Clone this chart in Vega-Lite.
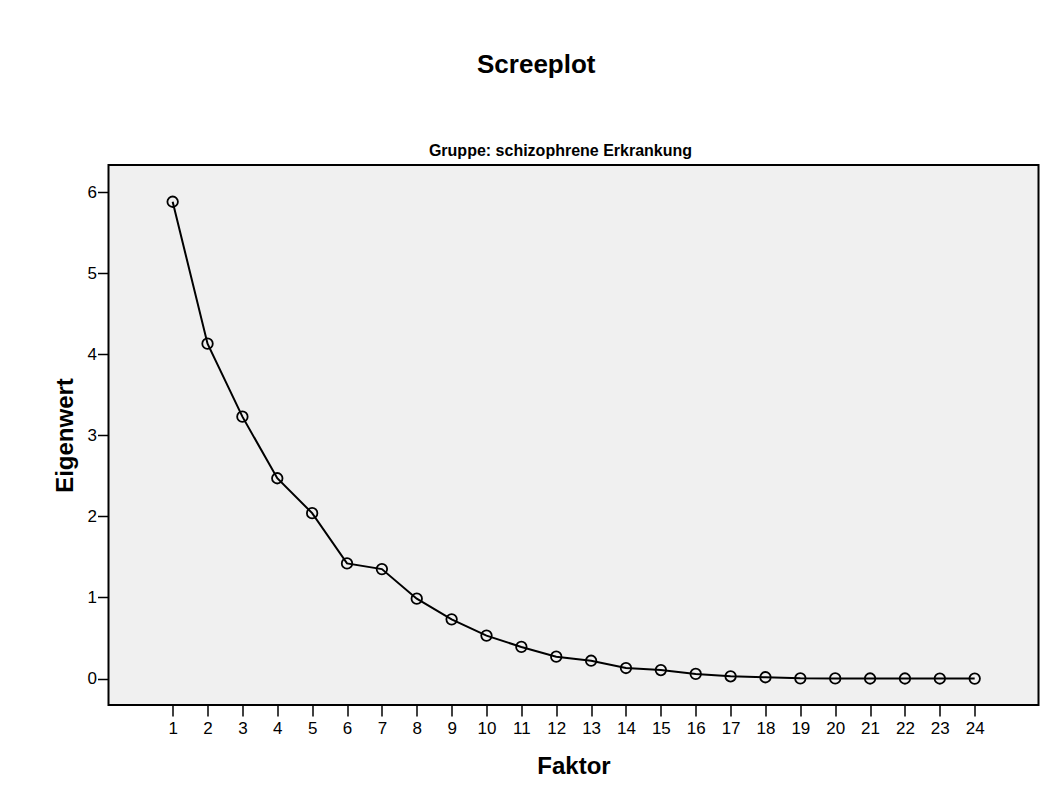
{
  "$schema": "https://vega.github.io/schema/vega-lite/v6.json",
  "background": "white",
  "padding": {"left": 51.5, "top": 52, "right": 5, "bottom": 5},
  "title": {"text": "Screeplot", "font": "Liberation Sans", "fontSize": 26, "fontWeight": "bold", "color": "#000000", "anchor": "middle", "offset": 64, "dx": -9.5},
  "config": {
    "view": {"stroke": "#000000", "strokeWidth": 2, "fill": "#f0f0f0"},
    "axis": {"labelFont": "Liberation Sans", "titleFont": "Liberation Sans", "labelColor": "#000000", "titleColor": "#000000", "tickColor": "#000000", "domain": false, "grid": false}
  },
  "data": {"values": [
    {"Faktor": 1, "Eigenwert": 5.88},
    {"Faktor": 2, "Eigenwert": 4.13},
    {"Faktor": 3, "Eigenwert": 3.23},
    {"Faktor": 4, "Eigenwert": 2.47},
    {"Faktor": 5, "Eigenwert": 2.04},
    {"Faktor": 6, "Eigenwert": 1.42},
    {"Faktor": 7, "Eigenwert": 1.35},
    {"Faktor": 8, "Eigenwert": 0.985},
    {"Faktor": 9, "Eigenwert": 0.73},
    {"Faktor": 10, "Eigenwert": 0.53},
    {"Faktor": 11, "Eigenwert": 0.39},
    {"Faktor": 12, "Eigenwert": 0.27},
    {"Faktor": 13, "Eigenwert": 0.22},
    {"Faktor": 14, "Eigenwert": 0.13},
    {"Faktor": 15, "Eigenwert": 0.105},
    {"Faktor": 16, "Eigenwert": 0.057},
    {"Faktor": 17, "Eigenwert": 0.028},
    {"Faktor": 18, "Eigenwert": 0.016},
    {"Faktor": 19, "Eigenwert": 0.003},
    {"Faktor": 20, "Eigenwert": 0.002},
    {"Faktor": 21, "Eigenwert": 0.001},
    {"Faktor": 22, "Eigenwert": 0.001},
    {"Faktor": 23, "Eigenwert": 0.0005},
    {"Faktor": 24, "Eigenwert": 0.0}
  ]},
  "vconcat": [
    {
      "width": 930,
      "height": 540,
      "title": {"text": "Gruppe: schizophrene Erkrankung", "font": "Liberation Sans", "fontSize": 16, "fontWeight": "bold", "color": "#000000", "anchor": "middle", "offset": 6, "dx": -13},
      "encoding": {
        "x": {"field": "Faktor", "type": "quantitative",
          "scale": {"domain": [-0.84, 25.83], "nice": false, "zero": false},
          "axis": {"values": [1,2,3,4,5,6,7,8,9,10,11,12,13,14,15,16,17,18,19,20,21,22,23,24], "tickSize": 11, "tickWidth": 1.5, "labelPadding": 4, "labelFontSize": 17, "labelFlush": false, "title": "Faktor", "titleFontSize": 24, "titleFontWeight": "bold", "titlePadding": 18}},
        "y": {"field": "Eigenwert", "type": "quantitative",
          "scale": {"domain": [-0.326, 6.333], "nice": false, "zero": false},
          "axis": {"values": [0,1,2,3,4,5,6], "tickSize": 11, "tickWidth": 1.5, "labelPadding": 1, "labelFontSize": 17, "labelFlush": false, "title": "Eigenwert", "titleFontSize": 24, "titleFontWeight": "bold", "titlePadding": 10}}
      },
      "layer": [
        {"mark": {"type": "line", "color": "#000000", "strokeWidth": 2}},
        {"mark": {"type": "point", "shape": "circle", "filled": false, "size": 110, "stroke": "#000000", "strokeWidth": 1.8, "opacity": 1}}
      ]
    }
  ]
}
